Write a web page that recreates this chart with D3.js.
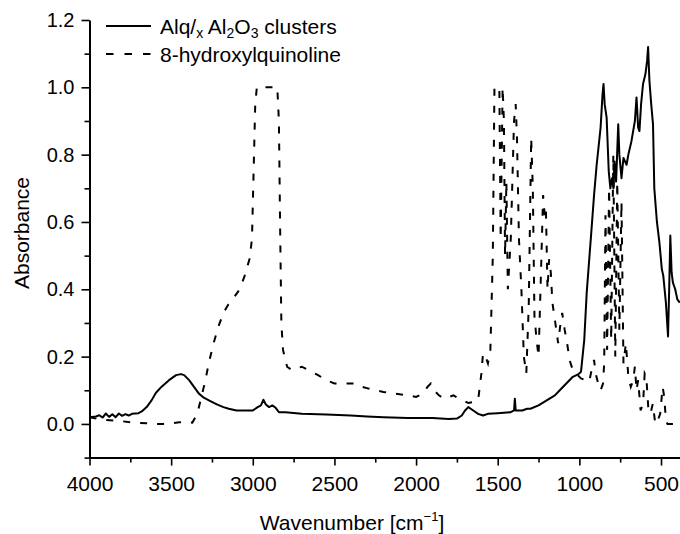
<!DOCTYPE html>
<html>
<head>
<meta charset="utf-8">
<script src="https://cdn.jsdelivr.net/npm/d3@7"></script>
<style>
  body { margin: 0; background: #fff; }
  text { font-family: "Liberation Sans", Arial, sans-serif; fill: #000; }
</style>
</head>
<body>
<div class="chart"></div>
<script>
// Alq/x Al2O3 clusters, [wavenumber, absorbance]
const clusterData = [
  [4000,0.02],[3960,0.022],[3940,0.026],[3920,0.019],[3900,0.031],[3880,0.021],[3860,0.029],
  [3840,0.02],[3820,0.031],[3800,0.024],[3780,0.029],[3760,0.025],[3740,0.03],[3700,0.032],
  [3680,0.037],[3650,0.05],[3620,0.07],[3594,0.092],[3560,0.11],[3513,0.13],[3470,0.145],
  [3440,0.148],[3420,0.145],[3390,0.13],[3360,0.11],[3330,0.09],[3300,0.078],[3260,0.068],
  [3220,0.058],[3180,0.05],[3147,0.045],[3100,0.04],[3000,0.04],[2970,0.05],[2950,0.055],
  [2935,0.072],[2920,0.058],[2900,0.05],[2880,0.055],[2860,0.048],[2840,0.035],[2800,0.035],
  [2700,0.03],[2550,0.028],[2400,0.025],[2300,0.022],[2200,0.02],[2050,0.018],[1900,0.018],
  [1800,0.015],[1750,0.016],[1720,0.025],[1700,0.04],[1680,0.05],[1650,0.04],[1620,0.03],
  [1590,0.025],[1560,0.03],[1500,0.032],[1420,0.035],[1400,0.04],[1395,0.075],[1390,0.04],
  [1350,0.04],[1320,0.045],[1300,0.045],[1250,0.055],[1200,0.07],[1150,0.085],[1120,0.1],
  [1080,0.12],[1040,0.14],[1005,0.148],[990,0.155],[970,0.25],[955,0.39],[930,0.55],
  [910,0.68],[894,0.77],[870,0.88],[858,0.98],[852,1.01],[845,0.95],[833,0.91],[820,0.75],
  [810,0.7],[800,0.73],[791,0.7],[785,0.78],[775,0.72],[762,0.89],[755,0.8],[742,0.73],
  [730,0.79],[711,0.77],[700,0.8],[681,0.84],[660,0.9],[650,0.97],[640,0.88],[632,0.87],
  [622,0.95],[610,1.01],[595,1.04],[585,1.08],[579,1.12],[571,1.02],[560,0.95],[549,0.89],
  [541,0.7],[525,0.6],[510,0.54],[495,0.46],[486,0.44],[470,0.36],[457,0.26],[450,0.4],
  [443,0.56],[435,0.45],[427,0.42],[413,0.4],[400,0.37],[385,0.36]
];

// 8-hydroxylquinoline, [wavenumber, absorbance]
const quinolineData = [
  [4000,0.02],[3950,0.015],[3900,0.012],[3850,0.01],[3800,0.008],[3750,0.005],[3700,0.003],
  [3650,0.002],[3600,0],[3550,0],[3500,0.002],[3450,0.005],[3400,0.006],[3370,0.004],
  [3340,0.03],[3310,0.09],[3290,0.13],[3270,0.18],[3240,0.24],[3210,0.29],[3180,0.33],
  [3150,0.355],[3110,0.38],[3080,0.4],[3050,0.44],[3020,0.49],[3005,0.55],[2995,0.75],
  [2985,0.95],[2975,1.0],[2850,1.0],[2840,0.9],[2833,0.6],[2825,0.3],[2815,0.22],[2790,0.17],
  [2760,0.16],[2700,0.17],[2660,0.16],[2600,0.145],[2550,0.13],[2500,0.12],[2450,0.12],
  [2400,0.12],[2370,0.12],[2330,0.11],[2290,0.105],[2250,0.1],[2200,0.095],[2150,0.092],
  [2100,0.088],[2050,0.085],[2000,0.08],[1960,0.09],[1930,0.11],[1910,0.12],[1890,0.1],
  [1860,0.085],[1830,0.075],[1800,0.08],[1770,0.085],[1740,0.075],[1710,0.07],[1680,0.062],
  [1650,0.065],[1620,0.07],[1600,0.15],[1590,0.21],[1575,0.2],[1560,0.18],[1545,0.22],
  [1530,0.5],[1520,1.0],[1490,1.0],[1482,0.55],[1470,1.0],[1462,0.9],[1455,0.5],[1447,0.72],
  [1438,0.4],[1420,0.55],[1400,0.9],[1390,0.95],[1382,0.85],[1370,0.55],[1355,0.4],[1340,0.2],
  [1325,0.15],[1310,0.35],[1295,0.85],[1285,0.7],[1275,0.32],[1262,0.25],[1250,0.2],
  [1235,0.45],[1222,0.68],[1212,0.62],[1205,0.64],[1195,0.4],[1185,0.49],[1175,0.45],
  [1165,0.36],[1150,0.31],[1130,0.24],[1115,0.3],[1105,0.33],[1090,0.28],[1075,0.24],
  [1060,0.19],[1040,0.16],[1010,0.145],[990,0.135],[960,0.13],[940,0.125],[925,0.16],
  [910,0.19],[900,0.15],[885,0.12],[870,0.1],[855,0.12],[848,0.18],[840,0.62],[830,0.22],
  [818,0.7],[805,0.25],[792,0.8],[780,0.2],[768,0.72],[755,0.28],[742,0.66],[730,0.18],
  [715,0.24],[700,0.14],[685,0.11],[670,0.13],[660,0.17],[650,0.1],[640,0.13],[625,0.04],
  [610,0.06],[600,0.15],[590,0.14],[578,0.05],[565,0.03],[550,0.06],[535,0],[520,0.01],
  [505,0.03],[490,0.11],[480,0.08],[470,0.01],[460,0],[385,0]
];

const xMajor = [4000, 3500, 3000, 2500, 2000, 1500, 1000, 500];
const xMinor = [3750, 3250, 2750, 2250, 1750, 1250, 750];
const yMajor = [0.0, 0.2, 0.4, 0.6, 0.8, 1.0, 1.2];
const yMinor = [-0.1, 0.1, 0.3, 0.5, 0.7, 0.9, 1.1];
const seriesNames = ["clusters", "8-hydroxylquinoline"];

// Set up the chart
const W = 680, H = 534;
const x = d3.scaleLinear().domain([4000, 380]).range([89.5, 680.6]);
const y = d3.scaleLinear().domain([-0.1, 1.2]).range([457.6, 20]);

const svg = d3.select(".chart").append("svg")
    .attr("width", W)
    .attr("height", H);

// Lines
const line = d3.line()
    .x(d => x(d[0]))
    .y(d => y(d[1]));

svg.append("path")
    .datum(quinolineData)
    .attr("fill", "none")
    .attr("stroke", "#000")
    .attr("stroke-width", 2)
    .attr("stroke-dasharray", "7,10")
    .attr("d", line);

svg.append("path")
    .datum(clusterData)
    .attr("fill", "none")
    .attr("stroke", "#000")
    .attr("stroke-width", 2)
    .attr("stroke-linejoin", "round")
    .attr("d", line);

// Axes
function styleAxis(g, size) {
    g.select(".domain").attr("stroke-width", 2);
    g.selectAll(".tick line").attr("stroke-width", 1.6);
    g.selectAll(".tick text").attr("font-size", size).attr("font-family", "Liberation Sans, Arial, sans-serif");
}

const xAxisG = svg.append("g")
    .attr("transform", "translate(0," + y(-0.1) + ")")
    .call(d3.axisBottom(x).tickValues(xMajor).tickFormat(d3.format("d"))
        .tickSize(8).tickSizeOuter(0).tickPadding(10));
styleAxis(xAxisG, 21);

svg.append("g")
    .attr("transform", "translate(0," + y(-0.1) + ")")
    .call(d3.axisBottom(x).tickValues(xMinor).tickFormat("").tickSize(5).tickSizeOuter(0))
    .call(g => g.select(".domain").remove())
    .selectAll(".tick line").attr("stroke-width", 1.6);

const yAxisG = svg.append("g")
    .attr("transform", "translate(" + x(4000) + ",0)")
    .call(d3.axisLeft(y).tickValues(yMajor).tickFormat(d3.format(".1f"))
        .tickSize(8).tickSizeOuter(0).tickPadding(7));
styleAxis(yAxisG, 20);

svg.append("g")
    .attr("transform", "translate(" + x(4000) + ",0)")
    .call(d3.axisLeft(y).tickValues(yMinor).tickFormat("").tickSize(5).tickSizeOuter(0))
    .call(g => g.select(".domain").remove())
    .selectAll(".tick line").attr("stroke-width", 1.6);

// Axis titles
const xTitle = svg.append("text")
    .attr("x", 352)
    .attr("y", 530)
    .attr("text-anchor", "middle")
    .attr("font-size", 21);
xTitle.append("tspan").text("Wavenumber [cm");
xTitle.append("tspan").attr("font-size", 13).attr("dy", -9).text("\u22121");
xTitle.append("tspan").attr("dy", 9).text("]");

svg.append("text")
    .attr("transform", "translate(29,233) rotate(-90)")
    .attr("text-anchor", "middle")
    .attr("font-size", 21)
    .text("Absorbance");

// Legend
const legend = svg.append("g");
legend.append("line")
    .attr("x1", 106).attr("x2", 151).attr("y1", 26).attr("y2", 26)
    .attr("stroke", "#000").attr("stroke-width", 2);
legend.append("line")
    .attr("x1", 106).attr("x2", 151).attr("y1", 54).attr("y2", 54)
    .attr("stroke", "#000").attr("stroke-width", 2)
    .attr("stroke-dasharray", "7.5,11");

const l1 = legend.append("text").attr("x", 160).attr("y", 34).attr("font-size", 21);
l1.append("tspan").text("Alq/");
l1.append("tspan").attr("font-size", 14).attr("dy", 4).text("x");
l1.append("tspan").attr("dy", -4).text(" Al");
l1.append("tspan").attr("font-size", 14).attr("dy", 4).text("2");
l1.append("tspan").attr("dy", -4).text("O");
l1.append("tspan").attr("font-size", 14).attr("dy", 4).text("3");
l1.append("tspan").attr("dy", -4).text(" " + seriesNames[0]);

legend.append("text").attr("x", 160).attr("y", 62).attr("font-size", 21)
    .text(seriesNames[1]);
</script>
</body>
</html>
